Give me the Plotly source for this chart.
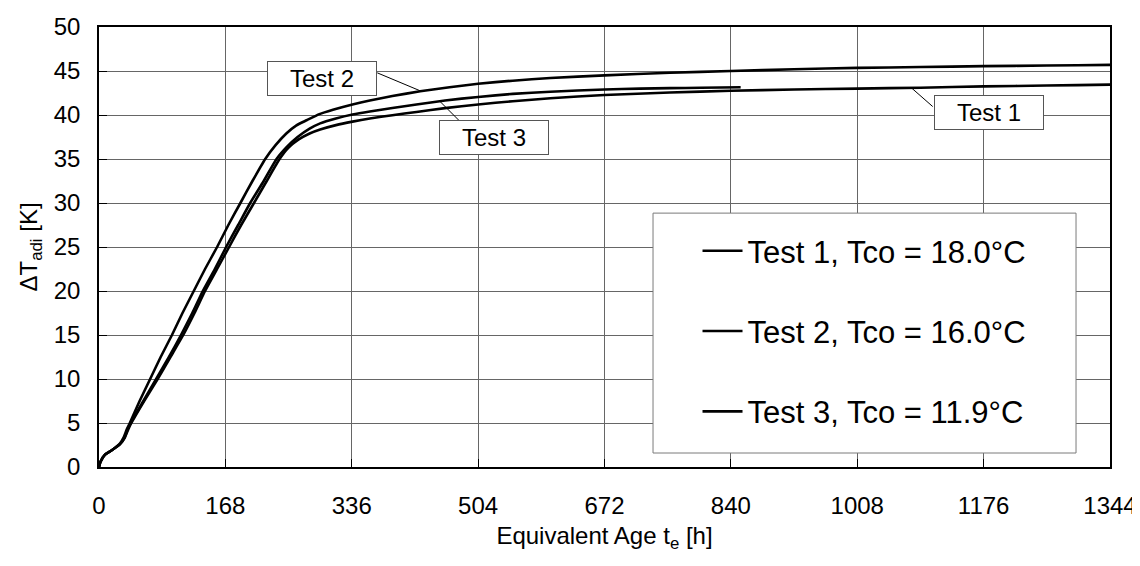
import numpy as np
import plotly.graph_objects as go

# ---------------- data ----------------
t1 = [0, 2, 8, 17, 28, 34, 39, 43, 60, 78, 95, 112, 127, 141, 157, 173, 189, 206, 223, 240, 252, 265, 280,
      294, 315, 337, 360, 390, 422, 460, 504, 550, 600, 672, 759, 840, 924, 1008, 1092, 1176, 1260, 1344, 1356]
y1 = [0, 0.6, 1.4, 1.9, 2.6, 3.3, 4.3, 5.0, 7.5, 10, 12.5, 15, 17.5, 20, 22.5, 25, 27.5, 30, 32.5, 35, 36.3,
      37.2, 37.9, 38.35, 38.85, 39.25, 39.6, 39.98, 40.35, 40.78, 41.2, 41.57, 41.9, 42.28, 42.55, 42.75, 42.9,
      43.0, 43.1, 43.25, 43.35, 43.45, 43.5]

t2 = [0, 2, 8, 17, 28, 33, 37, 41, 54, 68, 82, 97, 111, 126, 141, 157, 172, 188, 204, 221, 235, 249, 262, 276,
      293, 311, 337, 360, 390, 427, 466, 504, 550, 600, 672, 759, 840, 924, 1008, 1092, 1176, 1260, 1344, 1356]
y2 = [0, 0.6, 1.4, 1.9, 2.7, 3.4, 4.3, 5.0, 7.5, 10, 12.5, 15, 17.5, 20, 22.5, 25, 27.5, 30, 32.5, 35, 36.6,
      37.9, 38.8, 39.4, 40.1, 40.6, 41.2, 41.65, 42.15, 42.7, 43.15, 43.55, 43.9, 44.2, 44.5, 44.8, 45.0, 45.2,
      45.35, 45.45, 45.55, 45.62, 45.7, 45.72]

t3 = [0, 2, 8, 17, 28, 34, 38, 42, 59, 76, 93, 109, 124, 138, 154, 169, 185, 201, 219, 236, 250, 264, 280,
      294, 315, 337, 360, 390, 422, 460, 504, 550, 600, 672, 719, 759, 800, 853]
y3 = [0, 0.6, 1.4, 1.9, 2.6, 3.3, 4.3, 5.0, 7.5, 10, 12.5, 15, 17.5, 20, 22.5, 25, 27.5, 30, 32.5, 35, 36.4,
      37.5, 38.45, 39.05, 39.6, 40.05, 40.4, 40.8, 41.2, 41.65, 42.05, 42.4, 42.65, 42.9, 43.0, 43.05, 43.1, 43.15]

series_names = ["Test 1, Tco = 18.0°C", "Test 2, Tco = 16.0°C", "Test 3, Tco = 11.9°C"]
x_ticks = [0, 168, 336, 504, 672, 840, 1008, 1176, 1344]
y_ticks = [0, 5, 10, 15, 20, 25, 30, 35, 40, 45, 50]

# label callouts: (text, time on curve where leader touches, series index)
callouts = [("Test 2", 428, 1), ("Test 3", 453, 2), ("Test 1", 1080, 0)]

# ---------------- figure ----------------
FONT = "Liberation Sans, Arial, sans-serif"
fig = go.Figure()
data = [(t1, y1), (t2, y2), (t3, y3)]
for i, (tt, yy) in enumerate(data):
    fig.add_trace(go.Scatter(
        x=tt, y=yy, mode="lines", name=series_names[i],
        legendgroup=str(i),
        line=dict(color="black", width=2.6, shape="spline", smoothing=0.5),
    ))

# legend frame (white box)
fig.add_shape(type="rect", xref="paper", yref="paper",
              x0=0.548, x1=0.9664, y0=0.0318, y1=0.577,
              line=dict(color="#7a7a7a", width=1), fillcolor="white", layer="above")

# callout boxes and leader lines
box_pos = {"Test 2": (297.1, 44.2), "Test 3": (524.5, 37.44), "Test 1": (1182.5, 40.3)}
leader = {"Test 2": (-43.7, 18.3), "Test 3": (20, -20), "Test 1": (21.3, -18.7)}
for text, tx, si in callouts:
    tt, yy = data[si]
    yv = float(np.interp(tx, tt, yy))
    dx, dy = leader[text]
    fig.add_shape(type="line", xref="x", yref="y", xsizemode="pixel", ysizemode="pixel",
                  xanchor=tx, yanchor=yv, x0=0, y0=0, x1=dx, y1=dy,
                  line=dict(color="black", width=1), layer="above")
    bx, by = box_pos[text]
    fig.add_annotation(x=bx, y=by, xref="x", yref="y", text=text, showarrow=False,
                       font=dict(family=FONT, size=24, color="black"),
                       bgcolor="white", bordercolor="#555555", borderwidth=1,
                       borderpad=1, width=106, height=31)

fig.update_layout(
    width=1132, height=558,
    margin=dict(l=91, r=30, t=19, b=99),
    paper_bgcolor="white", plot_bgcolor="white",
    font=dict(family=FONT, size=24, color="black"),
    showlegend=True,
    legend=dict(
        x=0.592, y=0.552, xanchor="left", yanchor="top",
        xref="paper", yref="paper",
        bgcolor="rgba(0,0,0,0)", borderwidth=0,
        font=dict(family=FONT, size=31, color="black"),
        traceorder="grouped", tracegroupgap=37, itemwidth=40,
    ),
    xaxis=dict(
        range=[0, 1344], tickvals=x_ticks, ticktext=[str(v) for v in x_ticks],
        showgrid=True, gridcolor="#666666", gridwidth=1,
        showline=True, linecolor="black", linewidth=1.5, mirror=True,
        ticks="inside", ticklen=8, tickcolor="black", zeroline=False,
        tickfont=dict(size=24), ticklabelstandoff=16, automargin=False,
        title=dict(text="Equivalent Age t<sub>e</sub> [h]", font=dict(size=24), standoff=10),
    ),
    yaxis=dict(
        range=[0, 50], tickvals=y_ticks, ticktext=[str(v) for v in y_ticks],
        showgrid=True, gridcolor="#666666", gridwidth=1,
        showline=True, linecolor="black", linewidth=1.5, mirror=True,
        ticks="inside", ticklen=8, tickcolor="black", zeroline=False,
        tickfont=dict(size=24), ticklabelstandoff=12, automargin=False,
        title=dict(text="ΔT<sub>adi</sub> [K]", font=dict(size=24), standoff=9),
    ),
)

fig.write_html("out.html")
